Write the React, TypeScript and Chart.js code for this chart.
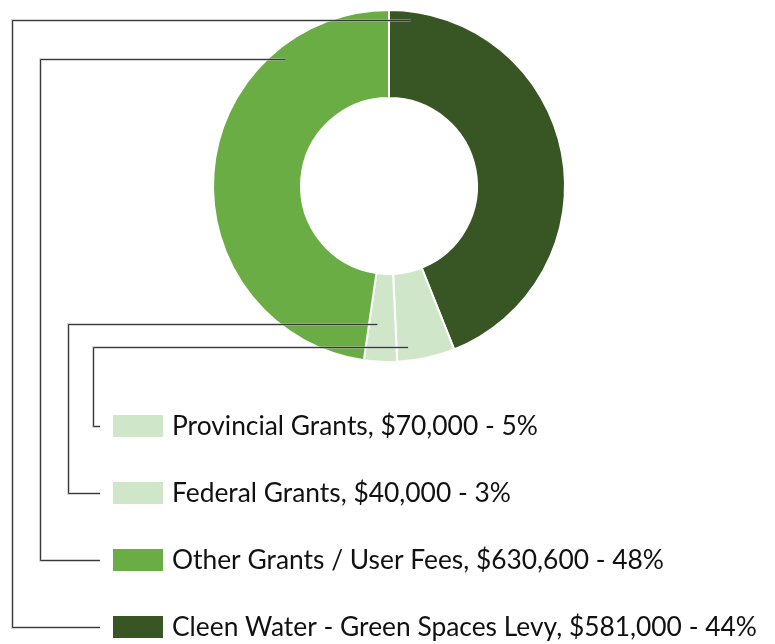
import React, { useEffect, useRef } from "react";
import { Chart, registerables } from "chart.js";

Chart.register(...registerables);

// ---- data ----
const categories = [
  "Cleen Water - Green Spaces Levy",
  "Provincial Grants",
  "Federal Grants",
  "Other Grants / User Fees",
];
const amounts = [581000, 70000, 40000, 630600];
const amountLabels = ["$581,000", "$70,000", "$40,000", "$630,600"];
const percentLabels = ["44%", "5%", "3%", "48%"];
const sliceColors = ["#375623", "#cfe7c8", "#cfe7c8", "#6aad45"];
const legendOrder = [1, 2, 3, 0];

// ---- leader-line styling (positions relative to each arc) ----
const anchorAngleFrac = [0.047, 0.785, 0.69, 0.771];
const anchorRadiusFrac = [0.9, 0.84, 0.57, 0.86];
const leaderColumnX = [12, 93, 68, 40];

const LEGEND_BOX_X = 113;
const LEGEND_BOX_W = 50;
const LEGEND_BOX_H = 22;
const LEGEND_FIRST_Y = 426;
const LEGEND_STEP = 67;
const LEGEND_TEXT_X = 172;
const LEGEND_TEXT_W = 585;
const LEADER_END_X = 100;

function labelFor(i: number) {
  return `${categories[i]}, ${amountLabels[i]} - ${percentLabels[i]}`;
}

const leaderLegendPlugin = {
  id: "leaderLegend",
  afterDraw(chart: any) {
    const ctx = chart.ctx as CanvasRenderingContext2D;
    const meta = chart.getDatasetMeta(0);
    ctx.save();

    // fit font
    const longest = labelFor(0);
    ctx.font = "100px Lato, 'Noto Sans', sans-serif";
    const w100 = ctx.measureText(longest).width;
    const size = (100 * LEGEND_TEXT_W) / w100;
    const fontStr = `${size.toFixed(2)}px Lato, 'Noto Sans', sans-serif`;

    meta.data.forEach((arc: any, i: number) => {
      const p = arc.getProps(
        ["x", "y", "startAngle", "endAngle", "innerRadius", "outerRadius"],
        true
      );
      const a = p.startAngle + (p.endAngle - p.startAngle) * anchorAngleFrac[i];
      const r = p.innerRadius + (p.outerRadius - p.innerRadius) * anchorRadiusFrac[i];
      const ax = p.x + r * Math.cos(a);
      const ay = Math.round(p.y + r * Math.sin(a)) + 0.5;
      const row = legendOrder.indexOf(i);
      const rowY = LEGEND_FIRST_Y + row * LEGEND_STEP;
      const ly = Math.round(rowY) + 0.5;
      const cx = leaderColumnX[i] + 0.5;

      const path = () => {
        ctx.beginPath();
        ctx.moveTo(ax, ay);
        ctx.lineTo(cx, ay);
        ctx.lineTo(cx, ly);
        ctx.lineTo(LEADER_END_X, ly);
      };
      ctx.lineJoin = "miter";
      path();
      ctx.strokeStyle = "rgba(170,170,170,0.7)";
      ctx.lineWidth = 2.5;
      ctx.stroke();
      path();
      ctx.strokeStyle = "#3a3a3a";
      ctx.lineWidth = 1;
      ctx.stroke();

      // legend box
      ctx.fillStyle = sliceColors[i];
      ctx.fillRect(LEGEND_BOX_X, rowY - LEGEND_BOX_H / 2, LEGEND_BOX_W, LEGEND_BOX_H);

      // legend text
      ctx.font = fontStr;
      ctx.fillStyle = "#111111";
      ctx.textBaseline = "alphabetic";
      ctx.textAlign = "left";
      ctx.fillText(labelFor(i), LEGEND_TEXT_X, rowY + size * 0.36);
    });
    ctx.restore();
  },
};

export default function App() {
  const ref = useRef<HTMLCanvasElement | null>(null);
  useEffect(() => {
    if (!ref.current) return;
    const chart = new Chart(ref.current, {
      type: "doughnut",
      data: {
        labels: categories,
        datasets: [
          {
            data: amounts,
            backgroundColor: sliceColors,
            borderColor: "#ffffff",
            borderWidth: 2,
          },
        ],
      },
      options: {
        animation: false,
        responsive: true,
        maintainAspectRatio: false,
        cutout: "50%",
        layout: { padding: { left: 212, right: 209, top: 9, bottom: 281 } },
        plugins: {
          legend: { display: false },
          tooltip: { enabled: false },
        },
      },
      plugins: [leaderLegendPlugin],
    });
    return () => chart.destroy();
  }, []);
  return (
    <div
      style={{
        position: "fixed",
        left: 0,
        top: 0,
        width: 775,
        height: 644,
        background: "#ffffff",
      }}
    >
      <canvas ref={ref} style={{ display: "block" }} />
    </div>
  );
}
